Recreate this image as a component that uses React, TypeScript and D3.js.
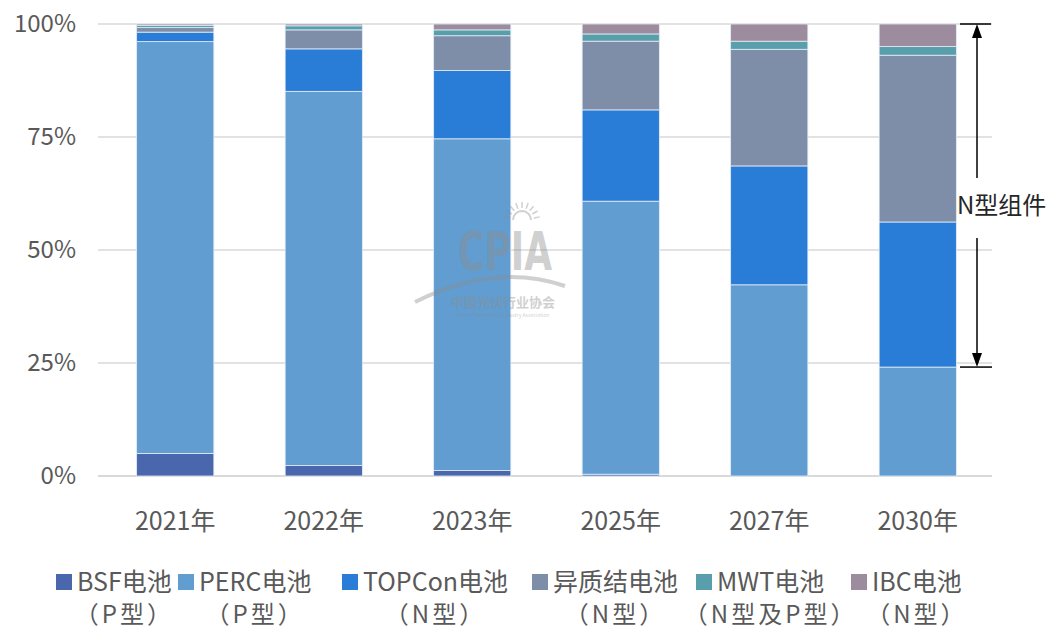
import { useEffect, useRef } from "react";
import * as d3 from "d3";

const years = ["2021年", "2022年", "2023年", "2025年", "2027年", "2030年"];
const seriesNames = ["BSF电池", "PERC电池", "TOPCon电池", "异质结电池", "MWT电池", "IBC电池"];
const seriesTypes = ["（P型）", "（P型）", "（N型）", "（N型）", "（N型及P型）", "（N型）"];
const colors = ["#4a67ad", "#619dd0", "#2a7dd6", "#7e8ea8", "#589fab", "#9d8c9d"];

// percent share per year
const bsf = [5.0, 2.3, 1.2, 0.4, 0, 0];
const perc = [91.1, 82.8, 73.4, 60.4, 42.3, 24.1];
const topcon = [2.1, 9.4, 15.1, 20.2, 26.3, 32.1];
const hjt = [1.0, 4.2, 7.7, 15.2, 25.8, 36.9];
const mwt = [0.5, 0.9, 1.3, 1.6, 1.8, 1.9];
const ibc = [0.3, 0.4, 1.3, 2.2, 3.8, 5.0];

const yTicks = [0, 25, 50, 75, 100];

const FONT = "'Noto Sans CJK SC', 'Noto Sans', sans-serif";

export default function App() {
  const svgRef = useRef<SVGSVGElement>(null);

  useEffect(() => {
    if (!svgRef.current) return;
    const svg = d3.select(svgRef.current);
    svg.selectAll("*").remove();

    const width = 1053;
    const height = 629;
    const left = 101;
    const right = 992;
    const top = 24;
    const bottom = 476;

    const series = [bsf, perc, topcon, hjt, mwt, ibc];
    const rows = years.map((year, i) => {
      const row: Record<string, number | string> = { year };
      seriesNames.forEach((n, k) => (row[n] = series[k][i]));
      return row;
    });
    const stacked = d3.stack<Record<string, number | string>>().keys(seriesNames)(rows as any);

    const x = d3.scaleBand<string>().domain(years).range([left, right]).paddingInner(0.48).paddingOuter(0.24);
    const y = d3.scaleLinear().domain([0, 100]).range([bottom, top]);

    svg.append("rect").attr("width", width).attr("height", height).attr("fill", "#fff");

    // Grid
    yTicks.forEach((t) => {
      svg
        .append("line")
        .attr("x1", left - 3)
        .attr("x2", right)
        .attr("y1", y(t))
        .attr("y2", y(t))
        .attr("stroke", "#d9d9d9")
        .attr("stroke-width", t === 0 ? 2 : 1.5);
      svg
        .append("text")
        .attr("x", 76)
        .attr("y", y(t))
        .attr("dy", "0.35em")
        .attr("text-anchor", "end")
        .attr("font-family", FONT)
        .attr("font-size", 24)
        .attr("fill", "#595959")
        .text(`${t}%`);
    });

    // Bars
    stacked.forEach((layer, k) => {
      svg
        .append("g")
        .selectAll("rect")
        .data(layer)
        .join("rect")
        .attr("x", (d) => x(d.data.year as string)!)
        .attr("width", x.bandwidth())
        .attr("y", (d) => y(d[1]))
        .attr("height", (d) => Math.max(0, y(d[0]) - y(d[1])))
        .attr("fill", colors[k])
        .attr("stroke", "#e3ecf7")
        .attr("stroke-width", 0.8);
    });

    // Watermark
    const wm = svg.append("g").attr("opacity", 0.4).attr("fill", "#8c8c8c");
    const cx = 505;
    wm.append("path")
      .attr("d", d3.arc()({ innerRadius: 8, outerRadius: 10, startAngle: -Math.PI / 2, endAngle: Math.PI / 2 })!)
      .attr("transform", `translate(${cx + 17},${220})`);
    d3.range(-4, 5).forEach((i) => {
      const a = (i * 20 * Math.PI) / 180;
      wm.append("line")
        .attr("x1", cx + 17 + Math.sin(a) * 12)
        .attr("y1", 220 - Math.cos(a) * 12)
        .attr("x2", cx + 17 + Math.sin(a) * 18)
        .attr("y2", 220 - Math.cos(a) * 18)
        .attr("stroke", "#8c8c8c")
        .attr("stroke-width", 1.5);
    });
    wm.append("text")
      .attr("x", cx)
      .attr("y", 270)
      .attr("text-anchor", "middle")
      .attr("font-family", "'DejaVu Sans Condensed', 'Liberation Sans Narrow', sans-serif")
      .attr("font-weight", "bold")
      .attr("font-size", 54)
      .attr("textLength", 94)
      .attr("lengthAdjust", "spacingAndGlyphs")
      .text("CPIA");
    wm.append("path")
      .attr("d", `M ${cx - 90} ${302} Q ${cx - 10} ${262} ${cx + 60} ${286}`)
      .attr("fill", "none")
      .attr("stroke", "#8c8c8c")
      .attr("stroke-width", 4);
    wm.append("text")
      .attr("x", cx - 2)
      .attr("y", 307)
      .attr("text-anchor", "middle")
      .attr("font-family", FONT)
      .attr("font-weight", "bold")
      .attr("font-size", 13)
      .text("中国光伏行业协会");
    wm.append("text")
      .attr("x", cx - 2)
      .attr("y", 317)
      .attr("text-anchor", "middle")
      .attr("font-family", FONT)
      .attr("font-size", 5)
      .text("China Photovoltaic Industry Association");

    // X labels
    years.forEach((yr) => {
      svg
        .append("text")
        .attr("x", x(yr)! + x.bandwidth() / 2)
        .attr("y", 530)
        .attr("text-anchor", "middle")
        .attr("font-family", FONT)
        .attr("font-size", 25)
        .attr("fill", "#595959")
        .text(yr);
    });

    // N-type annotation
    const ax = 977;
    const nTop = y(100);
    const nBottom = y(perc[5]);
    const ann = svg.append("g").attr("stroke", "#000").attr("stroke-width", 1.5);
    ann.append("line").attr("x1", 960).attr("x2", 991).attr("y1", nTop).attr("y2", nTop);
    ann.append("line").attr("x1", 960).attr("x2", 992).attr("y1", nBottom).attr("y2", nBottom);
    ann.append("line").attr("x1", ax).attr("x2", ax).attr("y1", nTop + 8).attr("y2", 178);
    ann.append("line").attr("x1", ax).attr("x2", ax).attr("y1", 238).attr("y2", nBottom - 8);
    svg.append("path")
      .attr("d", `M ${ax} ${nTop} L ${ax - 5} ${nTop + 14} L ${ax + 5} ${nTop + 14} Z`)
      .attr("fill", "#000");
    svg.append("path")
      .attr("d", `M ${ax} ${nBottom} L ${ax - 5} ${nBottom - 14} L ${ax + 5} ${nBottom - 14} Z`)
      .attr("fill", "#000");
    svg.append("text")
      .attr("x", 957)
      .attr("y", 206)
      .attr("dy", "0.35em")
      .attr("font-family", FONT)
      .attr("font-size", 24)
      .attr("fill", "#262626")
      .text("N型组件");

    // Legend
    const legendX = [56, 178, 342, 532, 696, 851];
    seriesNames.forEach((name, k) => {
      const lx = legendX[k];
      svg.append("rect")
        .attr("x", lx)
        .attr("y", 574)
        .attr("width", 16)
        .attr("height", 16)
        .attr("fill", colors[k]);
      const t = svg
        .append("text")
        .attr("x", lx + 21)
        .attr("y", 582)
        .attr("dy", "0.35em")
        .attr("font-family", FONT)
        .attr("font-size", 25)
        .attr("fill", "#595959")
        .text(name);
      const w = (t.node() as SVGTextElement).getComputedTextLength();
      svg.append("text")
        .attr("x", lx + 21 + w / 2)
        .attr("y", 615)
        .attr("dy", "0.35em")
        .attr("text-anchor", "middle")
        .attr("font-family", FONT)
        .attr("font-size", 24)
        .attr("letter-spacing", 3)
        .attr("fill", "#595959")
        .text(seriesTypes[k]);
    });
  }, []);

  return (
    <svg
      ref={svgRef}
      width={1053}
      height={629}
      style={{ position: "absolute", left: 0, top: 0, display: "block" }}
    />
  );
}
